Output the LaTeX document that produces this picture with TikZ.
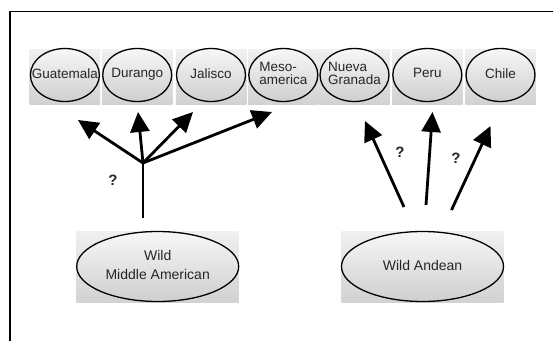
\documentclass[tikz,border=0pt]{standalone}
\usepackage{fontspec}
\setmainfont{Liberation Sans}
\usetikzlibrary{arrows.meta, shapes.geometric}
\newcommand{\inside}[2][c]{\makebox[0pt]{\begin{tabular}{@{}#1@{}}#2\end{tabular}}}

\begin{document}
\begin{tikzpicture}[x=1pt, y=-1pt]
        \def\row{76.5}
        \def\wild{266.5}
        \tikzstyle{cell}=[rectangle, top color=gray!12, bottom color=gray!35, minimum width=70.5pt, minimum height=55pt, inner sep=0pt]
        \tikzstyle{bigcell}=[cell, minimum width=162pt, minimum height=71pt]
        \tikzstyle{place}=[ellipse, draw=black, line width=1.3pt, top color=gray!6, bottom color=gray!38, minimum width=69pt, minimum height=53pt, inner sep=0pt, text=black!85, font=\fontsize{13.5}{12.5}\selectfont]
        \tikzstyle{bigplace}=[place, minimum width=162pt, minimum height=70pt, font=\fontsize{14}{19}\selectfont]
        \tikzstyle{arrow}=[-{Triangle[length=20pt, width=19pt]}, line width=2.8pt]
        \tikzstyle{ask}=[font=\bfseries\fontsize{15}{15}\selectfont, text=black!85]
        \useasboundingbox (0,0) rectangle (553,340);
        \draw[line width=1.8pt] (10,341) -- (10,11.5) -- (554,11.5);

        % Cells
        \node[cell] (c1) at (64.9, \row) {};
        \node[cell] (c2) at (137.2, \row) {};
        \node[cell] (c3) at (211, \row) {};
        \node[cell] (c4) at (283.3, \row) {};
        \node[cell] (c5) at (354.5, \row) {};
        \node[cell] (c6) at (427.3, \row) {};
        \node[cell] (c7) at (500.5, \row) {};
        \node[bigcell] (cm) at (157.7, \wild) {};
        \node[bigcell] (ca) at (422.5, \wild) {};

        % Nodes
        \node[place] (gua) at (64.9, 75) {\inside{Guatemala}};
        \node[place] (dur) at (137.2, 75) {\inside{Durango}};
        \node[place] (jal) at (211, 75) {\inside{Jalisco}};
        \node[place] (meso) at (283.3, 75) {\inside[l]{Meso-\\america}};
        \node[place] (nueva) at (354.5, 75) {\inside[l]{Nueva\\Granada}};
        \node[place] (peru) at (427.3, 75) {\inside{Peru}};
        \node[place] (chile) at (500.5, 75) {\inside{Chile}};

        \node[bigplace] (wma) at (157.7, \wild) {\inside{Wild\\Middle American}};
        \node[bigplace] (wan) at (422.5, \wild) {\inside{Wild Andean}};

        % Edges
        \coordinate (stem) at (143, 218);
        \coordinate (fork) at (143, 163);
        \coordinate (t1) at (78, 120);
        \coordinate (t2) at (138, 112);
        \coordinate (t3) at (193, 112);
        \coordinate (t4) at (272, 112);
        \draw[line width=2.8pt] (stem) -- (fork);
        \draw[arrow] (fork) -- (t1);
        \draw[arrow] (fork) -- (t2);
        \draw[arrow] (fork) -- (t3);
        \draw[arrow] (fork) -- (t4);
        \node[ask] (q1) at (113, 180) {?};

        \coordinate (s1) at (404, 207);
        \coordinate (s2) at (426, 205);
        \coordinate (s3) at (451.5, 210);
        \coordinate (u1) at (365, 121);
        \coordinate (u2) at (432.5, 112);
        \coordinate (u3) at (490.5, 126);
        \draw[arrow] (s1) -- (u1);
        \draw[arrow] (s2) -- (u2);
        \draw[arrow] (s3) -- (u3);
        \node[ask] (q2) at (400, 152) {?};
        \node[ask] (q3) at (456, 158) {?};

    \end{tikzpicture}
\end{document}
